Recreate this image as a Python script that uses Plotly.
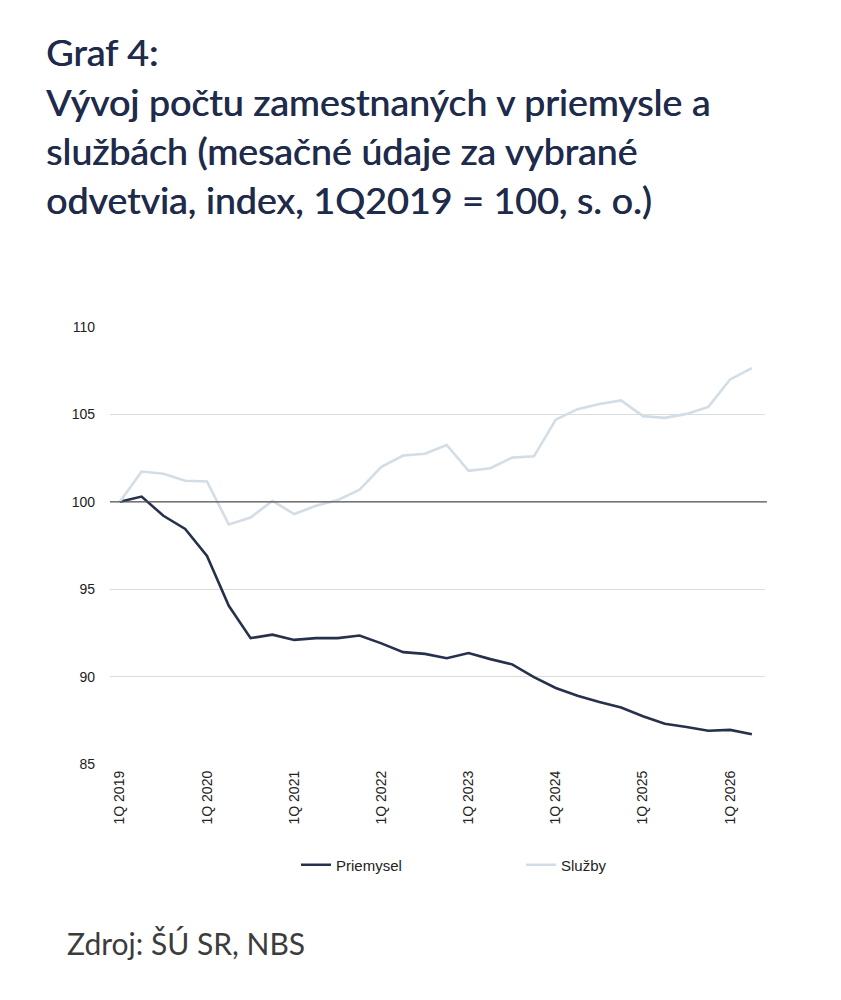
import plotly.graph_objects as go

# quarterly points, 1Q 2019 .. 2Q 2026
quarters = [f"{q}Q {y}" for y in range(2019, 2027) for q in range(1, 5)][:30]

priemysel = [
    100.0, 100.3, 99.2, 98.45, 96.9, 94.05, 92.2, 92.4,
    92.1, 92.2, 92.2, 92.35, 91.9, 91.4, 91.3, 91.05,
    91.35, 91.0, 90.7, 89.97, 89.35, 88.9, 88.55, 88.23,
    87.73, 87.3, 87.12, 86.9, 86.95, 86.7,
]
sluzby = [
    100.0, 101.73, 101.6, 101.2, 101.16, 98.7, 99.1, 100.05,
    99.3, 99.77, 100.1, 100.7, 102.0, 102.65, 102.75, 103.25,
    101.77, 101.92, 102.53, 102.6, 104.7, 105.3, 105.6, 105.8,
    104.9, 104.8, 105.03, 105.43, 107.0, 107.65,
]

tick_labels = [q for q in quarters if q.startswith("1Q")]
y_ticks = [85, 90, 95, 100, 105, 110]

title_lines = [
    "Graf 4:",
    "Vývoj počtu zamestnaných v priemysle a",
    "službách (mesačné údaje za vybrané",
    "odvetvia, index, 1Q2019 = 100, s. o.)",
]
source_text = "Zdroj: ŠÚ SR, NBS"

NAVY = "#1f2b4b"
OFF = 8  # page body margin
W, H = 833, 992
L, R, T, B = 102, 76, 319, 236
pw, ph = W - L - R, H - T - B


# screen pixel -> paper coords
def px_x(x):
    return (x - OFF - L) / pw


def px_y(y):
    return (H - B - (y - OFF)) / ph


fig = go.Figure()
fig.add_trace(go.Scatter(x=quarters, y=priemysel, name="Priemysel", mode="lines",
                         line=dict(color="#26324d", width=2.6)))
fig.add_trace(go.Scatter(x=quarters, y=sluzby, name="Služby", mode="lines",
                         line=dict(color="#d2dde6", width=2.6)))

# reference line at 100
fig.add_shape(type="line", xref="paper", yref="y", x0=0, x1=1.003, y0=100, y1=100,
              line=dict(color="#555555", width=1.2), layer="above")

annotations = []
for i, line in enumerate(title_lines):
    # regular Lato with a thin shadow reads like the medium weight of the original
    annotations.append(dict(
        text=line, xref="paper", yref="paper", x=px_x(44), y=px_y(52 + 49.3 * i),
        xanchor="left", yanchor="middle", showarrow=False,
        font=dict(family="Lato", size=37.6, color=NAVY,
                  shadow=f"0.6px 0 0 {NAVY}"),
    ))
annotations.append(dict(
    text=source_text, xref="paper", yref="paper", x=px_x(65), y=px_y(943),
    xanchor="left", yanchor="middle", showarrow=False,
    font=dict(family="Lato", size=30, color="#3c3c3c"),
))

fig.update_layout(
    width=W, height=H,
    margin=dict(l=L, r=R, t=T, b=B, pad=0),
    paper_bgcolor="white", plot_bgcolor="white",
    font=dict(family="Liberation Sans, Arial", size=14, color="#222222"),
    showlegend=True,
    legend=dict(orientation="h", x=px_x(296), xanchor="left", y=px_y(865), yanchor="middle",
                entrywidth=180, entrywidthmode="pixels",
                font=dict(size=15, color="#222222")),
    annotations=annotations,
)
fig.update_xaxes(
    type="category", range=[-0.45, 29.6],
    tickvals=tick_labels, ticktext=tick_labels, tickangle=-90,
    showgrid=False, showline=False, zeroline=False, ticks="", ticklabelstandoff=3,
    tickfont=dict(size=14),
)
fig.update_yaxes(
    range=[85, 110], tickvals=y_ticks, showgrid=True, gridcolor="#dcdcdc", gridwidth=1,
    zeroline=False, showline=False, ticks="", ticklabelstandoff=14,
    tickfont=dict(size=14),
)

fig.write_html("out.html")
